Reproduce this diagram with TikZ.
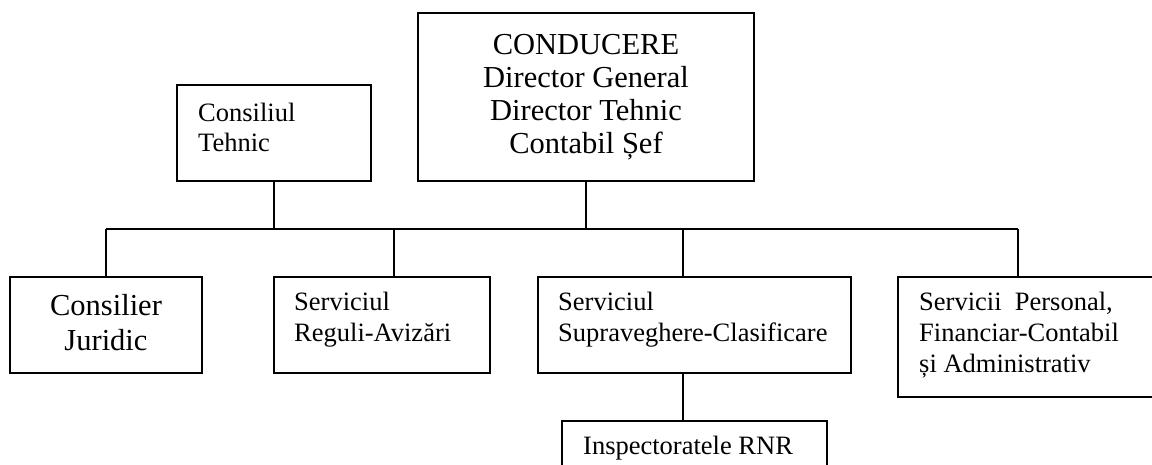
\documentclass[tikz,border=0pt]{standalone}
\usepackage{fontspec}
\setmainfont{Liberation Serif}
\begin{document}
\begin{tikzpicture}[x=1pt,y=-1pt,
  box/.style={draw, line width=1.3pt, inner sep=0pt},
  lbl/.style={inner sep=0pt, align=left, anchor=north west},
  big/.style={font=\fontsize{30.5}{33}\selectfont},
  small/.style={font=\fontsize{26.5}{31}\selectfont},
  conn/.style={line width=1.3pt}]
\useasboundingbox (0,0) rectangle (1152,464);
\clip (0,0) rectangle (1152,464);
% boxes
\node[box, big, align=center, minimum width=336pt, minimum height=168pt] (cond) at (586,97)
  {CONDUCERE\\Director General\\Director Tehnic\\Contabil Șef};
\node[box, minimum width=194pt, minimum height=96pt] (ct) at (274,133) {};
\node[box, minimum width=192pt, minimum height=96pt] (cj) at (106,325) {};
\node[box, minimum width=216pt, minimum height=96pt] (rg) at (382,325) {};
\node[box, minimum width=313pt, minimum height=96pt] (sv) at (694.5,325) {};
\node[box, minimum width=270pt, minimum height=120pt] (sp) at (1033,337) {};
\node[box, minimum width=265pt, minimum height=70pt] (ins) at (694.5,456) {};
% texts
\node[inner sep=0pt, align=center, font=\fontsize{30.5}{35}\selectfont] (tcj) at (106,323) {Consilier\\Juridic};
\node[lbl, font=\fontsize{26.5}{29.5}\selectfont] (tct) at (198,103) {Consiliul\\Tehnic};
\node[lbl, small] (trg) at (294,292) {Serviciul\\Reguli-Avizări};
\node[lbl, small] (tsv) at (558,292) {Serviciul\\Supraveghere-Clasificare};
\node[lbl, small] (tsp) at (919,292) {Servicii\ \ Personal,\\Financiar-Contabil\\și Administrativ};
\node[lbl, small] (tins) at (583,436) {Inspectoratele RNR};
% connectors
\coordinate (busL) at (106,229);
\coordinate (busR) at (1018,229);
\coordinate (dR) at (394,229);
\coordinate (dS) at (683,229);
\draw[conn] (busL) -- (busR);
\draw[conn] (ct.south) -- (ct.south |- busL);
\draw[conn] (cond.south) -- (cond.south |- busL);
\draw[conn] (busL) -- (cj.north);
\draw[conn] (dR) -- (dR |- rg.north);
\draw[conn] (dS) -- (dS |- sv.north);
\draw[conn] (busR) -- (busR |- sp.north);
\draw[conn] (dS |- sv.south) -- (dS |- ins.north);
\end{tikzpicture}
\end{document}
